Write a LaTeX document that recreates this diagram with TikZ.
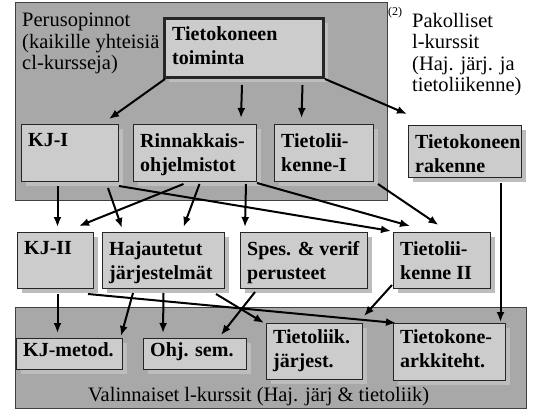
\documentclass[tikz,border=0pt]{standalone}
\usepackage{fontspec}
\setmainfont{Liberation Serif}
\usetikzlibrary{calc,shadows,arrows.meta}
\definecolor{regiongray}{gray}{0.66}
\definecolor{boxgray}{gray}{0.8}
\definecolor{shadowgray}{gray}{0.74}

\begin{document}
\begin{tikzpicture}[x=1pt,y=-1pt,
    region/.style={draw=black!75, fill=regiongray, line width=1pt},
    course/.style={draw=black!85, fill=boxgray, line width=1pt, inner sep=0pt, anchor=north west,
      drop shadow={shadow xshift=4pt, shadow yshift=-4pt, fill=shadowgray, opacity=1}},
    ctext/.style={anchor=north west, font=\fontsize{20}{24}\selectfont\bfseries, align=left,
      inner xsep=7pt, inner ysep=9pt},
    note/.style={font=\fontsize{20.5}{21.5}\selectfont, align=left, inner sep=0pt},
    arr/.style={-{Latex[length=10pt,width=8pt]}, line width=2pt}]
    \useasboundingbox (0,0) rectangle (539,410);
    % the two groups of courses
    \filldraw[region] (15,2) rectangle (387,200);
    \filldraw[region] (15,307) rectangle (526,408);
    \node[note, anchor=north west] (perus) at (22,13) {Perusopinnot\\(kaikille yhteisiä\\cl-kursseja)};
    \node[note, anchor=north west] (pakol) at (412,13) {Pakolliset\\l-kurssit\\(Haj. järj. ja\\tietoliikenne)};
    \node[anchor=base west, inner sep=0pt, font=\fontsize{12}{12}\selectfont] (two) at (388,15) {(2)};
    \node[note, anchor=base west] (valin) at (88,401) {Valinnaiset l-kurssit (Haj. järj \& tietoliik)};
    % courses
    \node[course, line width=3pt, minimum width=159pt, minimum height=59pt,
      label={[ctext, inner xsep=9pt]north west:Tietokoneen\\toiminta}] (toim) at (163,17) {};
    \node[course, minimum width=97pt, minimum height=57pt,
      label={[ctext]north west:KJ-I}] (kj1) at (21,124) {};
    \node[course, minimum width=123pt, minimum height=57pt,
      label={[ctext]north west:Rinnakkais-\\ohjelmistot}] (rinn) at (133,124) {};
    \node[course, minimum width=99pt, minimum height=57pt,
      label={[ctext]north west:Tietolii-\\kenne-I}] (tl1) at (274,124) {};
    \node[course, minimum width=113pt, minimum height=52pt,
      label={[ctext]north west:Tietokoneen\\rakenne}] (rak) at (408,125) {};
    \node[course, minimum width=76pt, minimum height=56pt,
      label={[ctext]north west:KJ-II}] (kj2) at (17,232) {};
    \node[course, minimum width=122pt, minimum height=56pt,
      label={[ctext]north west:Hajautetut\\järjestelmät}] (haj) at (102,232) {};
    \node[course, minimum width=127pt, minimum height=56pt,
      label={[ctext]north west:Spes. \& verif\\perusteet}] (spes) at (240,232) {};
    \node[course, minimum width=97pt, minimum height=56pt,
      label={[ctext]north west:Tietolii-\\kenne II}] (tl2) at (393,232) {};
    \node[course, minimum width=106pt, minimum height=31pt,
      label={[ctext, inner ysep=4pt]north west:KJ-metod.}] (kjm) at (16,338) {};
    \node[course, minimum width=103pt, minimum height=31pt,
      label={[ctext, inner ysep=4pt]north west:Ohj. sem.}] (ohj) at (143,338) {};
    \node[course, minimum width=96pt, minimum height=56pt,
      label={[ctext, inner ysep=6pt]north west:Tietoliik.\\järjest.}] (tlj) at (266,323) {};
    \node[course, minimum width=112pt, minimum height=57pt,
      label={[ctext, inner ysep=6pt]north west:Tietokone-\\arkkiteht.}] (tka) at (393,323) {};
    % prerequisites
    \draw[arr] ($(toim.south west)+(2,0)$) -- ($(kj1.north east)+(-10,-5)$);
    \draw[arr] ($(toim.south)+(-2,6)$) -- ($(rinn.north)+(46,-6)$);
    \draw[arr] ($(toim.south)+(58.5,6)$) -- ($(tl1.north)+(-22.5,-6)$);
    \draw[arr] (toim.south east) -- ($(rak.north west)+(-1,-11)$);
    \draw[arr] ($(kj1.south)+(-12.5,4)$) -- ($(kj2.north)+(2,-5)$);
    \draw[arr] ($(rinn.south)+(-11.5,2)$) -- ($(kj2.north east)+(-15,-6)$);
    \draw[arr] ($(kj1.south east)+(-11,6)$) -- ($(haj.north west)+(20,-4)$);
    \draw[arr] ($(rinn.south)+(4.5,2)$) -- ($(haj.north)+(20,-5)$);
    \draw[arr] ($(rinn.south east)+(-11,2)$) -- ($(spes.north west)+(5,-5)$);
    \draw[arr] ($(kj1.south east)+(0,4)$) -- ($(tl2.north west)+(-2,-1)$);
    \draw[arr] ($(rinn.south east)+(0,1)$) -- ($(tl2.north west)+(17,-6)$);
    \draw[arr] ($(tl1.south east)+(4,2)$) -- ($(tl2.north)+(-3.5,-7)$);
    \draw[arr] ($(rak.south)+(35.5,5)$) -- ($(tka.north)+(51,-1)$);
    \draw[arr] ($(kj2.south)+(2,5)$) -- ($(kjm.north)+(-12,-5)$);
    \draw[arr] ($(haj.south west)+(31,4)$) -- ($(kjm.north east)+(-2,-2)$);
    \draw[arr] ($(haj.south)+(0,4)$) -- ($(ohj.north west)+(20,-5)$);
    \draw[arr] ($(haj.south east)+(-9,5)$) -- ($(tlj.north west)+(-2,0)$);
    \draw[arr] ($(spes.south west)+(15,3)$) -- ($(ohj.north east)+(-26,-3)$);
    \draw[arr] ($(kj2.south east)+(-6,5)$) -- ($(tka.north west)+(3,0)$);
    \draw[arr] ($(tl2.south west)+(-1,-4)$) -- ($(tlj.north east)+(1,-7)$);
\end{tikzpicture}
\end{document}
